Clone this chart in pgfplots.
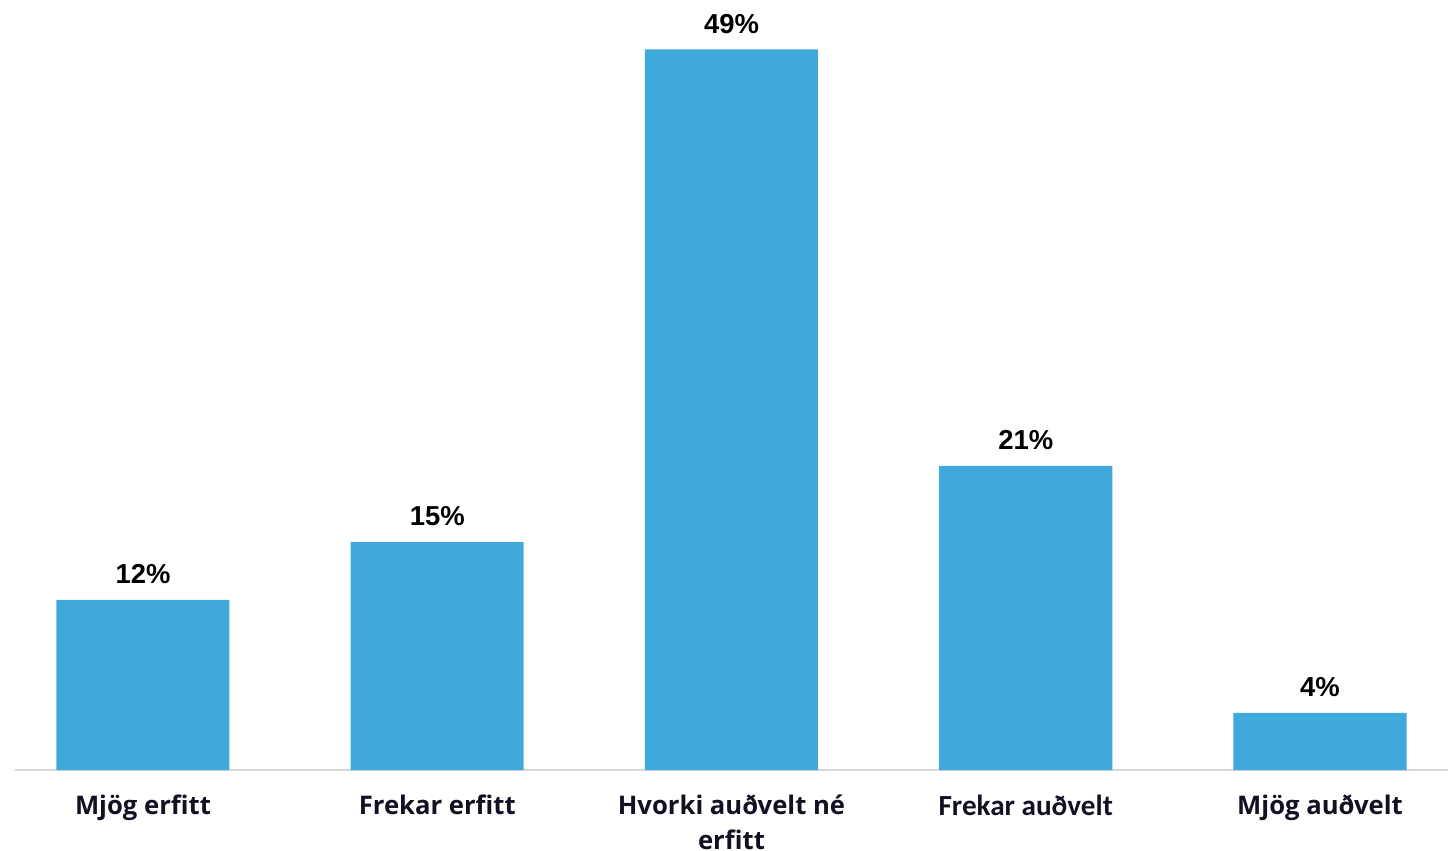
\documentclass[border=0pt]{standalone}
\usepackage{fontspec}
\setmainfont{Open Sans}
\newfontfamily\carlito{Carlito}
\newfontfamily\arialfont{Liberation Sans}
\usepackage{pgfplots}
\pgfplotsset{compat=1.18}
\definecolor{barblue}{HTML}{3FA9DB}
\definecolor{axisgray}{HTML}{D9D9D9}
\definecolor{labeltext}{HTML}{111122}
\begin{document}
\begin{tikzpicture}[x=1cm,y=1cm]
\useasboundingbox (0,0) rectangle (14.48,8.51);
\begin{axis}[
    at={(0.15cm,0.81cm)}, anchor=south west,
    scale only axis,
    width=14.33cm, height=7.70cm,
    ybar, bar width=1.73cm,
    xmin=-0.435, xmax=4.435,
    ymin=0, ymax=52.35,
    axis x line*=bottom,
    axis y line=none,
    x axis line style={draw=axisgray, line width=0.6pt, -},
    xtick=data,
    xticklabels={Mjög erfitt, Frekar erfitt, {Hvorki auðvelt né\\erfitt}, {\carlito\fontsize{8.3}{10}\selectfont\raisebox{-1.5pt}{Frekar auðvelt}}, Mjög auðvelt},
    major tick length=0pt,
    xticklabel style={font=\fontsize{7.3}{9.9}\selectfont\bfseries, text=labeltext, align=center, yshift=-3.5pt},
    nodes near coords,
    point meta=explicit symbolic,
    every node near coord/.append style={font=\arialfont\bfseries\fontsize{7.8}{9}\selectfont, text=black, yshift=1pt},
]
\addplot[fill=barblue, draw=none] coordinates {
    (0,11.56) [12\%]
    (1,15.5) [15\%]
    (2,49) [49\%]
    (3,20.67) [21\%]
    (4,3.88) [4\%]
};
\end{axis}
\end{tikzpicture}
\end{document}
